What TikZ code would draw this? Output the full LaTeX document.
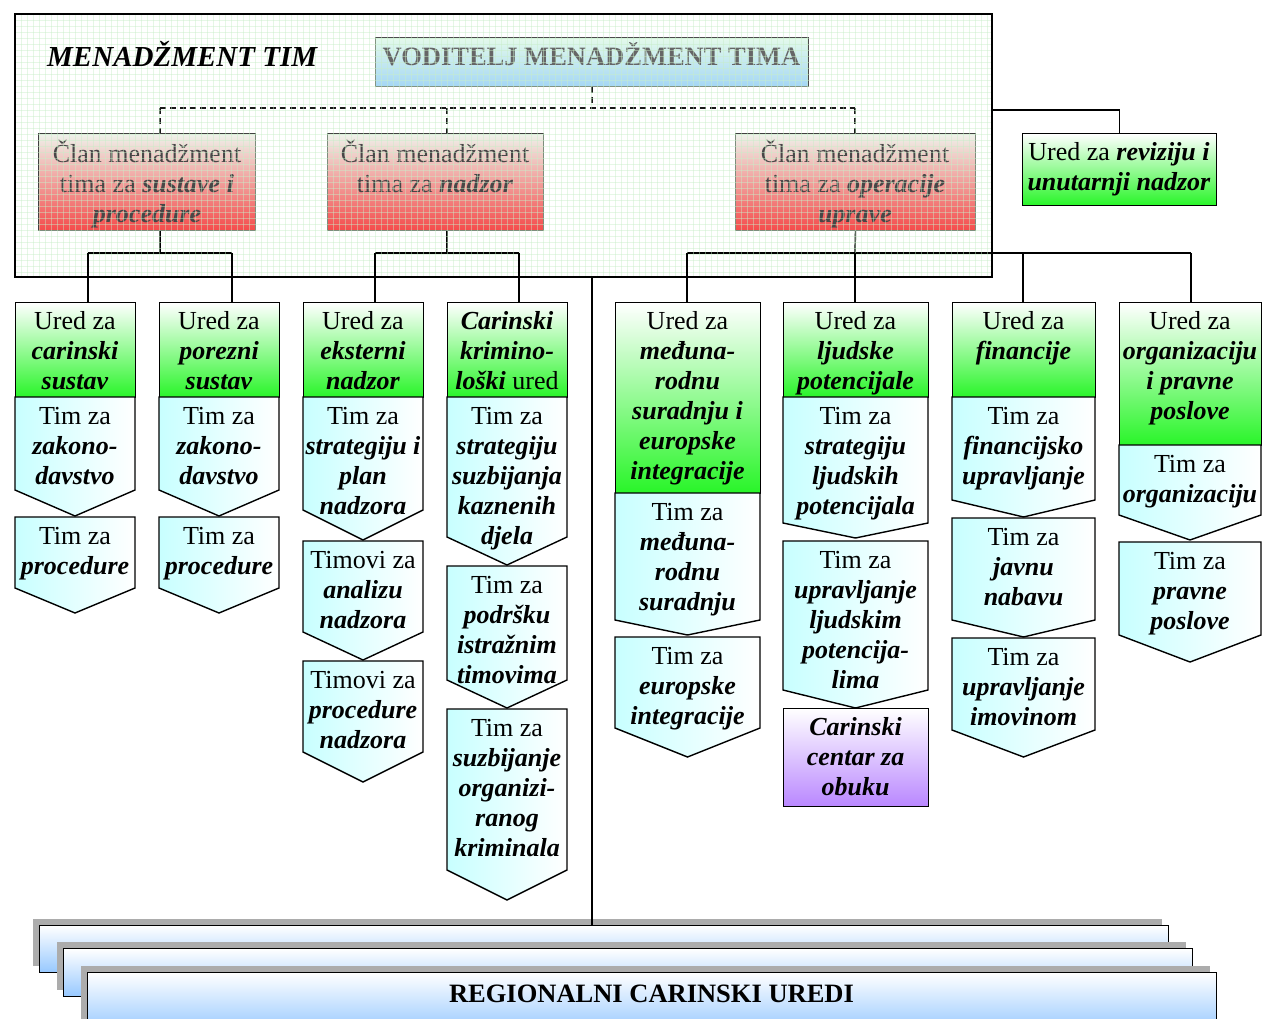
\documentclass[tikz,border=0pt]{standalone}
\usepackage{fontspec}
\setmainfont{Liberation Serif}
\pgfdeclarelayer{back}
\pgfdeclarelayer{shadows}
\pgfsetlayers{back,shadows,main}
\newcommand\bix[1]{\textbf{\textit{#1}}}
\definecolor{mgbg}{RGB}{228,252,228}
\definecolor{gridc}{RGB}{200,238,200}
\definecolor{urgreen}{RGB}{40,245,40}
\definecolor{tcyan}{RGB}{200,255,255}
\definecolor{memred}{RGB}{245,75,75}
\definecolor{memtop}{RGB}{238,242,235}
\definecolor{regblue}{RGB}{150,200,255}
\definecolor{purp}{RGB}{185,135,255}
\definecolor{vodblue}{RGB}{165,215,245}
\definecolor{vodtop}{RGB}{228,250,235}
\definecolor{shad}{RGB}{172,172,172}
\tikzset{
  every node/.style={inner sep=0pt},
  txt/.style={font=\fontsize{26}{30}\selectfont, align=center, anchor=north},
  ln/.style={line width=1.4pt, draw=black},
  boxln/.style={line width=1.4pt, draw=black},
  urfill/.style={top color=white, bottom color=urgreen},
  chfill/.style={left color=tcyan, right color=white},
  purpfill/.style={top color=white, bottom color=purp},
  regfill/.style={top color=white, bottom color=regblue},
  memb/.style={draw=black!75, line width=1pt, top color=memtop, bottom color=memred},
  dsh/.style={dashed, dash pattern=on 6pt off 4pt, line width=1.1pt, draw=black!90},
}
\newcommand\shadowrect[4]{\begin{pgfonlayer}{shadows}\fill[shad] ({#1-6},{#3-6}) rectangle ({#2-6},{#4-6});\end{pgfonlayer}}
\newcommand\chv[6]{%
  \begin{pgfonlayer}{shadows}\fill[shad] ({#2-6},{#4-6}) -- ({#3-6},{#4-6}) -- ({#3-6},{#5-6}) -- ({(#2+#3)/2-6},{#6-6}) -- ({#2-6},{#5-6}) -- cycle;\end{pgfonlayer}
  \draw[boxln,chfill] (#2,#4) -- (#3,#4) -- (#3,#5) -- ({(#2+#3)/2},#6) -- (#2,#5) -- cycle;
  \coordinate (#1) at ({(#2+#3)/2},#4);}
\newcommand\urbox[6]{%
  \shadowrect{#2}{#3}{#4}{#5}
  \node[boxln,#6,minimum width={#3-#2},minimum height={#5-#4},anchor=north west] (#1) at (#2,#4) {};}
\newcommand\tx[4]{\node[txt] (#1) at (#2,{#3+6}) {\strut #4};}
\begin{document}
\begin{tikzpicture}[x=1pt,y=-1pt]
\clip (0,0) rectangle (1263,1019);
\fill[white] (0,0) rectangle (1263,1019);
% management area
\begin{pgfonlayer}{back}
\fill[mgbg] (15,14) rectangle (992,277);
\end{pgfonlayer}
\node[minimum width=977, minimum height=263, anchor=north west] (mgmt) at (15,14) {};
% head of team
\shadowrect{375}{808}{37}{86}
\node[draw=black!70, line width=1pt, top color=vodtop, bottom color=vodblue, minimum width=433, minimum height=49, anchor=north west] (vod) at (375,37) {};
\node[anchor=base, font=\fontsize{26.5}{30}\selectfont\bfseries, text=black!60] (vodt) at (591.5,66) {VODITELJ MENADŽMENT TIMA};
% member boxes
\urbox{m1}{38}{255}{133}{230}{memb}
\urbox{m2}{327}{543}{133}{230}{memb}
\urbox{m3}{735}{975}{133}{230}{memb}
\node[txt, text=black!72] (m1t) at (147,140) {\strut Član menadžment\\tima za \bix{sustave i}\\\bix{procedure}};
\node[txt, text=black!72] (m2t) at (435,140) {\strut Član menadžment\\tima za \bix{nadzor}};
\node[txt, text=black!72] (m3t) at (855,140) {\strut Član menadžment\\tima za \bix{operacije}\\\bix{uprave}};
% dashed connectors
\coordinate (dl) at (160,108);
\coordinate (dm) at (447,108);
\coordinate (dr) at (855,108);
\draw[dsh, line width=1.8pt] (vod.south) -- (vod.south |- dl);
\draw[dsh] (dl) -- (dr);
\draw[dsh] (dl) -- (dl |- m1.north);
\draw[dsh] (dm) -- (dm |- m2.north);
\draw[dsh] (dr) -- (dr |- m3.north);
% connectors below member boxes
\coordinate (h1) at (160,253);
\coordinate (h1a) at (88,253);
\coordinate (h1b) at (232,253);
\coordinate (h2) at (447,253);
\coordinate (h2a) at (375,253);
\coordinate (h2b) at (519,253);
\coordinate (h3a) at (687,253);
\coordinate (h3b) at (855,253);
\coordinate (h3c) at (1023,253);
\coordinate (h3d) at (1191,253);
\draw[ln] (m1.south -| h1) -- (h1);
\draw[ln] (h1a) -- (h1b);
\draw[ln] (m2.south -| h2) -- (h2);
\draw[ln] (h2a) -- (h2b);
\draw[ln] (m3.south) -- (h3b);
\draw[ln] (h3a) -- (h3d);
% grid overlay
\begin{scope}
\clip (15,14) rectangle (992,277);
\foreach \i in {0,...,163} \draw[gridc, line width=0.5pt, opacity=0.45] ({15+\i*6},14) -- ({15+\i*6},277);
\foreach \j in {0,...,44} \draw[gridc, line width=0.5pt, opacity=0.45] (15,{14+\j*6}) -- (992,{14+\j*6});
\end{scope}
\draw[line width=2pt] (mgmt.north west) rectangle (mgmt.south east);
\node[anchor=base west, font=\fontsize{29}{32}\selectfont\bfseries\itshape] (title) at (47,67) {MENADŽMENT TIM};
% audit office
\coordinate (r0) at (992,110);
\urbox{rev}{1022}{1216}{133}{205}{urfill}
\tx{revt}{1119}{133}{Ured za \bix{reviziju i}\\\bix{unutarnji nadzor}}
\draw[ln] (r0) -| (rev.north);
% column 1
\urbox{u1}{15}{135}{302}{397}{urfill}
\tx{u1t}{75}{302}{Ured za\\\bix{carinski}\\\bix{sustav}}
\chv{c1a}{15}{135}{397}{490}{516}
\tx{c1at}{75}{397}{Tim za\\\bix{zakono-}\\\bix{davstvo}}
\chv{c1b}{15}{135}{517}{588}{613}
\tx{c1bt}{75}{517}{Tim za\\\bix{procedure}}
% column 2
\urbox{u2}{159}{279}{302}{397}{urfill}
\tx{u2t}{219}{302}{Ured za\\\bix{porezni}\\\bix{sustav}}
\chv{c2a}{159}{279}{397}{490}{516}
\tx{c2at}{219}{397}{Tim za\\\bix{zakono-}\\\bix{davstvo}}
\chv{c2b}{159}{279}{517}{588}{613}
\tx{c2bt}{219}{517}{Tim za\\\bix{procedure}}
% column 3
\urbox{u3}{303}{423}{302}{397}{urfill}
\tx{u3t}{363}{302}{Ured za\\\bix{eksterni}\\\bix{nadzor}}
\chv{c3a}{303}{423}{397}{510}{540}
\tx{c3at}{363}{397}{Tim za\\\bix{strategiju i}\\\bix{plan}\\\bix{nadzora}}
\chv{c3b}{303}{423}{541}{632}{660}
\tx{c3bt}{363}{541}{Timovi za\\\bix{analizu}\\\bix{nadzora}}
\chv{c3c}{303}{423}{661}{752}{782}
\tx{c3ct}{363}{661}{Timovi za\\\bix{procedure}\\\bix{nadzora}}
% column 4
\urbox{u4}{447}{567}{302}{397}{urfill}
\tx{u4t}{507}{302}{\bix{Carinski}\\\bix{krimino-}\\\bix{loški} ured}
\chv{c4a}{447}{567}{397}{537}{565}
\tx{c4at}{507}{397}{Tim za\\\bix{strategiju}\\\bix{suzbijanja}\\\bix{kaznenih}\\\bix{djela}}
\chv{c4b}{447}{567}{566}{680}{708}
\tx{c4bt}{507}{566}{Tim za\\\bix{podršku}\\\bix{istražnim}\\\bix{timovima}}
\chv{c4c}{447}{567}{709}{870}{900}
\tx{c4ct}{507}{709}{Tim za\\\bix{suzbijanje}\\\bix{organizi-}\\\bix{ranog}\\\bix{kriminala}}
% column 5
\urbox{u5}{615}{760}{302}{493}{urfill}
\tx{u5t}{687.5}{302}{Ured za\\\bix{međuna-}\\\bix{rodnu}\\\bix{suradnju i}\\\bix{europske}\\\bix{integracije}}
\chv{c5a}{615}{760}{493}{620}{635}
\tx{c5at}{687.5}{493}{Tim za\\\bix{međuna-}\\\bix{rodnu}\\\bix{suradnju}}
\chv{c5b}{615}{760}{637}{728}{757}
\tx{c5bt}{687.5}{637}{Tim za\\\bix{europske}\\\bix{integracije}}
% column 6
\urbox{u6}{783}{928}{302}{397}{urfill}
\tx{u6t}{855.5}{302}{Ured za\\\bix{ljudske}\\\bix{potencijale}}
\chv{c6a}{783}{928}{397}{523}{538}
\tx{c6at}{855.5}{397}{Tim za\\\bix{strategiju}\\\bix{ljudskih}\\\bix{potencijala}}
\chv{c6b}{783}{928}{541}{690}{708}
\tx{c6bt}{855.5}{541}{Tim za\\\bix{upravljanje}\\\bix{ljudskim}\\\bix{potencija-}\\\bix{lima}}
\urbox{c6c}{783}{928}{708}{806}{purpfill}
\tx{c6ct}{855.5}{708}{\bix{Carinski}\\\bix{centar za}\\\bix{obuku}}
% column 7
\urbox{u7}{952}{1095}{302}{397}{urfill}
\tx{u7t}{1023.5}{302}{Ured za\\\bix{financije}}
\chv{c7a}{952}{1095}{397}{500}{517}
\tx{c7at}{1023.5}{397}{Tim za\\\bix{financijsko}\\\bix{upravljanje}}
\chv{c7b}{952}{1095}{518}{620}{637}
\tx{c7bt}{1023.5}{518}{Tim za\\\bix{javnu}\\\bix{nabavu}}
\chv{c7c}{952}{1095}{638}{730}{757}
\tx{c7ct}{1023.5}{638}{Tim za\\\bix{upravljanje}\\\bix{imovinom}}
% column 8
\urbox{u8}{1119}{1261}{302}{445}{urfill}
\tx{u8t}{1190}{302}{Ured za\\\bix{organizaciju}\\\bix{i pravne}\\\bix{poslove}}
\chv{c8a}{1119}{1261}{445}{515}{540}
\tx{c8at}{1190}{445}{Tim za\\\bix{organizaciju}}
\chv{c8b}{1119}{1261}{542}{635}{662}
\tx{c8bt}{1190}{542}{Tim za\\\bix{pravne}\\\bix{poslove}}
% drops to offices
\draw[ln] (h1a) -- (h1a |- u1.north);
\draw[ln] (h1b) -- (h1b |- u2.north);
\draw[ln] (h2a) -- (h2a |- u3.north);
\draw[ln] (h2b) -- (h2b |- u4.north);
\draw[ln] (h3a) -- (h3a |- u5.north);
\draw[ln] (h3b) -- (h3b |- u6.north);
\draw[ln] (h3c) -- (h3c |- u7.north);
\draw[ln] (h3d) -- (h3d |- u8.north);
% regional offices
\fill[shad] (33,919) rectangle (1162,966);
\node[boxln, regfill, minimum width=1129, minimum height=47, anchor=north west] (regA) at (39,925) {};
\fill[shad] (57,942) rectangle (1186,990);
\node[boxln, regfill, minimum width=1129, minimum height=48, anchor=north west] (regB) at (63,948) {};
\fill[shad] (81,966) rectangle (1210,1030);
\node[boxln, regfill, minimum width=1129, minimum height=60, anchor=north west] (regC) at (87,972) {};
\node[anchor=base, font=\fontsize{26.5}{30}\selectfont\bfseries] (regt) at (651.5,1002) {REGIONALNI CARINSKI UREDI};
% main vertical
\draw[ln] (vod.south |- mgmt.south) -- (vod.south |- regA.north);
\end{tikzpicture}
\end{document}
